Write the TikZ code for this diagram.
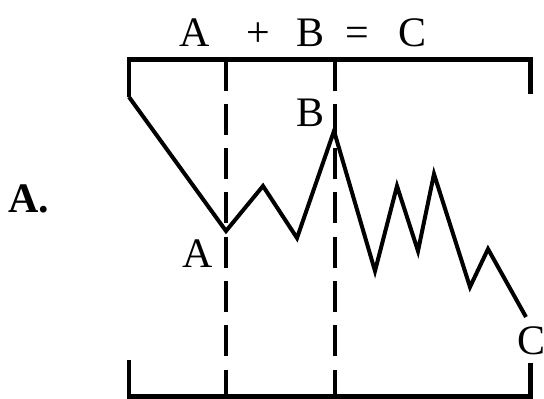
\documentclass[tikz,border=0pt]{standalone}
\usepackage{fontspec}
\setmainfont{Liberation Serif}
\begin{document}
\begin{tikzpicture}[x=1pt,y=-1pt,
  frame/.style={line width=4.5pt},
  trace/.style={line width=4pt},
  divider/.style={line width=3.5pt, dash pattern=on 31pt off 13.3pt},
  lbl/.style={anchor=base west, inner sep=0pt, font=\fontsize{42}{44}\selectfont},
  boldlbl/.style={anchor=base west, inner sep=0pt, font=\fontsize{42}{44}\selectfont\bfseries}]
\useasboundingbox (0,0) rectangle (544,399);
% brackets
\coordinate (tl) at (129,97);
\coordinate (tlc) at (129,59.5);
\coordinate (trc) at (530.5,59.5);
\coordinate (tr) at (530.5,94);
\coordinate (bl) at (129,360);
\coordinate (blc) at (129,396.5);
\coordinate (brc) at (530.5,396.5);
\coordinate (br) at (530.5,363);
\draw[frame] (tl) -- (tlc) -- (trc) -- (tr);
\draw[frame] (bl) -- (blc) -- (brc) -- (br);
% dashed dividers
\coordinate (da1) at (226,59.5);
\coordinate (da2) at (226,396.5);
\coordinate (db1) at (335,59.5);
\coordinate (db2) at (335,396.5);
\draw[divider] (da1) -- (da2);
\draw[divider] (db1) -- (db2);
% zigzag trace
\coordinate (pA) at (226,231);
\coordinate (z1) at (263,186);
\coordinate (z2) at (297,238);
\coordinate (pB) at (334,131);
\coordinate (z3) at (375,271);
\coordinate (z4) at (397,186);
\coordinate (z5) at (418,251);
\coordinate (z6) at (434,174);
\coordinate (z7) at (470,287);
\coordinate (z8) at (488,249);
\coordinate (pC) at (526,317);
\draw[trace] (tl) -- (pA) -- (z1) -- (z2) -- (pB) -- (z3) -- (z4) -- (z5) -- (z6) -- (z7) -- (z8) -- (pC);
% labels
\node[lbl] (eq) at (179.5,46.5) {A\hspace{36pt}+\hspace{27pt}B\hspace{21pt}=\hspace{29pt}C};
\node[lbl] (lB) at (296.5,126) {B};
\node[lbl] (lA) at (182.5,267) {A};
\node[lbl] (lC) at (517,354) {C};
\node[boldlbl] (title) at (8,212) {A.};
\end{tikzpicture}
\end{document}
